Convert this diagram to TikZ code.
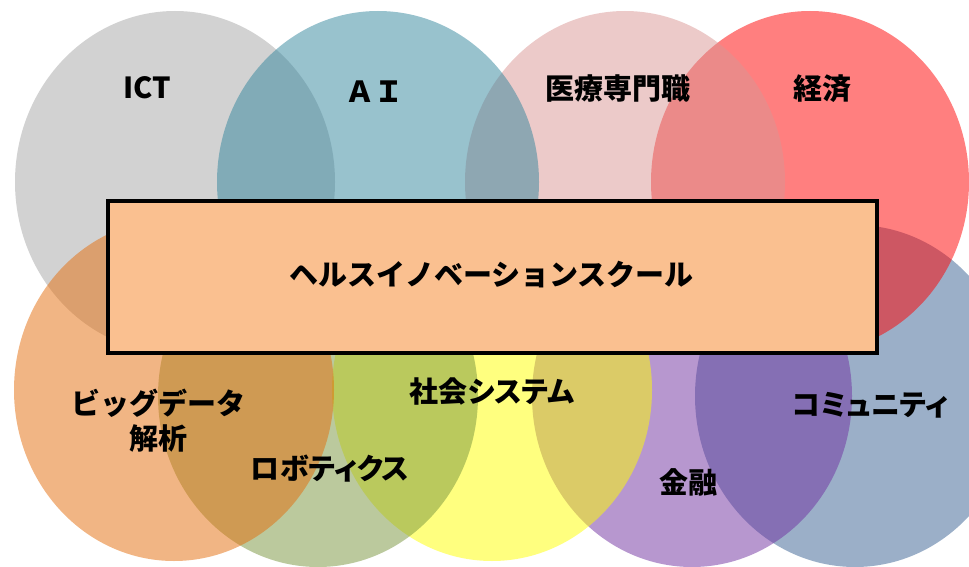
\documentclass[tikz,border=0pt]{standalone}
\usepackage{fontspec}
\setmainfont{Noto Sans CJK JP}
\newfontfamily\jpprop{Noto Sans CJK JP}[RawFeature=+palt]
\definecolor{cGray}{HTML}{A6A6A6}
\definecolor{cAqua}{HTML}{31859C}
\definecolor{cPink}{HTML}{D99694}
\definecolor{cRed}{HTML}{FF0000}
\definecolor{cOrange}{HTML}{E46C0A}
\definecolor{cOlive}{HTML}{77933C}
\definecolor{cYellow}{HTML}{FFFF00}
\definecolor{cPurple}{HTML}{7030A0}
\definecolor{cSlate}{HTML}{376092}
\definecolor{cBox}{HTML}{FAC090}
\tikzset{
  blob/.style={fill=#1, fill opacity=0.5, draw=none},
  lbl/.style={font=\fontsize{29}{34}\selectfont\bfseries, text=black, inner sep=0pt, align=center},
  plbl/.style={font=\jpprop\fontsize{29}{34}\selectfont\bfseries, text=black, inner sep=0pt, align=center},
  titlebox/.style={draw=black, line width=4pt, fill=cBox, inner sep=0pt, minimum width=769pt, minimum height=152pt}
}
\begin{document}
\begin{tikzpicture}[x=1pt,y=-1pt]
\useasboundingbox (0,0) rectangle (969,567);
% bottom row (right to left)
\fill[blob=cSlate]  (855,396) ellipse [x radius=160pt, y radius=171pt];
\fill[blob=cPurple] (692,396) ellipse [x radius=160pt, y radius=171pt];
\fill[blob=cYellow] (492,390) ellipse [x radius=160pt, y radius=171pt];
\fill[blob=cOlive]  (318,396) ellipse [x radius=160pt, y radius=171pt];
% top row
\fill[blob=cRed]    (810,182) ellipse [x radius=159pt, y radius=171pt];
\fill[blob=cPink]   (625,182) ellipse [x radius=160pt, y radius=171pt];
\fill[blob=cGray]   (175,182) ellipse [x radius=160pt, y radius=171pt];
\fill[blob=cAqua]   (378,182) ellipse [x radius=161pt, y radius=171pt];
\fill[blob=cOrange] (174,390) ellipse [x radius=160pt, y radius=171pt];
% central box
\node[titlebox] (school) at (492.5,277) {};
\node[lbl] (schooltxt) at (491.5,275) {ヘルスイノベーションスクール};
% labels
\node[lbl] (ict) at (147,88) {ICT};
\node[lbl] (ai) at (374,92) {ＡＩ};
\node[lbl] (med) at (618,89) {医療専門職};
\node[lbl] (econ) at (822,89) {経済};
\node[lbl] (big) at (158,403) {ビッグデータ};
\node[lbl] (ana) at (158,438) {解析};
\node[plbl] (robo) at (330,469) {ロボティクス};
\node[plbl] (soc) at (492,392) {社会システム};
\node[plbl] (comm) at (870,405) {コミュニティ};
\node[lbl] (fin) at (688,482) {金融};
\end{tikzpicture}
\end{document}
